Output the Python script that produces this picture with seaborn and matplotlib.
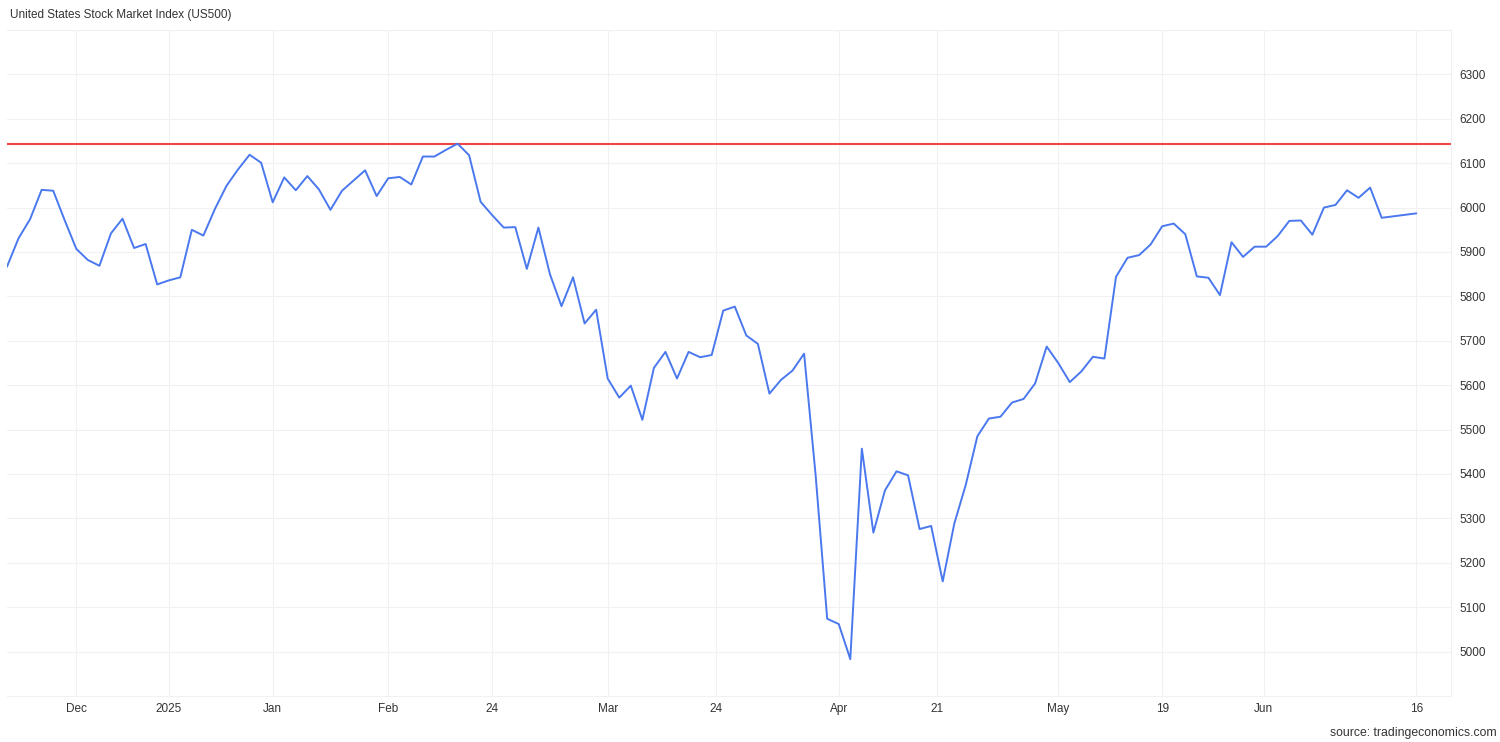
import numpy as np
import pandas as pd
import matplotlib
matplotlib.use("Agg")
import matplotlib.pyplot as plt
import seaborn as sns

# US500 daily closes (trading days only)
dates = [
    "2024-12-19", "2024-12-20", "2024-12-23", "2024-12-24", "2024-12-26", "2024-12-27",
    "2024-12-30", "2024-12-31",
    "2025-01-02", "2025-01-03", "2025-01-06", "2025-01-07", "2025-01-08", "2025-01-10",
    "2025-01-13", "2025-01-14", "2025-01-15", "2025-01-16", "2025-01-17", "2025-01-21",
    "2025-01-22", "2025-01-23", "2025-01-24", "2025-01-27", "2025-01-28", "2025-01-29",
    "2025-01-30", "2025-01-31",
    "2025-02-03", "2025-02-04", "2025-02-05", "2025-02-06", "2025-02-07", "2025-02-10",
    "2025-02-11", "2025-02-12", "2025-02-13", "2025-02-14", "2025-02-18", "2025-02-19",
    "2025-02-20", "2025-02-21", "2025-02-24", "2025-02-25", "2025-02-26", "2025-02-27",
    "2025-02-28",
    "2025-03-03", "2025-03-04", "2025-03-05", "2025-03-06", "2025-03-07", "2025-03-10",
    "2025-03-11", "2025-03-12", "2025-03-13", "2025-03-14", "2025-03-17", "2025-03-18",
    "2025-03-19", "2025-03-20", "2025-03-21", "2025-03-24", "2025-03-25", "2025-03-26",
    "2025-03-27", "2025-03-28", "2025-03-31",
    "2025-04-01", "2025-04-02", "2025-04-03", "2025-04-04", "2025-04-07", "2025-04-08",
    "2025-04-09", "2025-04-10", "2025-04-11", "2025-04-14", "2025-04-15", "2025-04-16",
    "2025-04-17", "2025-04-21", "2025-04-22", "2025-04-23", "2025-04-24", "2025-04-25",
    "2025-04-28", "2025-04-29", "2025-04-30",
    "2025-05-01", "2025-05-02", "2025-05-05", "2025-05-06", "2025-05-07", "2025-05-08",
    "2025-05-09", "2025-05-12", "2025-05-13", "2025-05-14", "2025-05-15", "2025-05-16",
    "2025-05-19", "2025-05-20", "2025-05-21", "2025-05-22", "2025-05-23", "2025-05-27",
    "2025-05-28", "2025-05-29", "2025-05-30",
    "2025-06-02", "2025-06-03", "2025-06-04", "2025-06-05", "2025-06-06", "2025-06-09",
    "2025-06-10", "2025-06-11", "2025-06-12", "2025-06-13", "2025-06-18",
]
closes = [
    5867, 5931, 5974, 6040, 6038, 5971,
    5907, 5882,
    5869, 5942, 5975, 5909, 5918, 5827,
    5836, 5843, 5950, 5937, 5997, 6049,
    6086, 6119, 6101, 6012, 6068, 6039,
    6071, 6041,
    5995, 6038, 6061, 6084, 6026, 6066,
    6069, 6052, 6115, 6115, 6130, 6144,
    6118, 6013, 5983, 5955, 5956, 5862,
    5955,
    5850, 5778, 5843, 5739, 5770, 5615,
    5572, 5599, 5522, 5639, 5675, 5615,
    5675, 5663, 5668, 5768, 5777, 5712,
    5693, 5581, 5612,
    5633, 5671, 5397, 5074, 5062, 4983,
    5457, 5268, 5363, 5406, 5397, 5276,
    5283, 5158, 5288, 5376, 5485, 5525,
    5529, 5561, 5569,
    5604, 5687, 5650, 5607, 5631, 5664,
    5660, 5844, 5887, 5893, 5917, 5958,
    5964, 5940, 5845, 5842, 5803, 5922,
    5889, 5912, 5912,
    5936, 5970, 5971, 5939, 6000, 6006,
    6039, 6022, 6045, 5977, 5987,
]
market_holidays = ["2024-12-25", "2025-01-01", "2025-01-09", "2025-01-20",
                   "2025-02-17", "2025-04-18", "2025-05-26"]

# x ticks sit on the trading-day scale
tick_pos = [6, 14, 23, 33, 42, 52, 61.4, 72, 80.5, 91, 100, 108.8, 122]
tick_labels = ["Dec", "2025", "Jan", "Feb", "24", "Mar", "24", "Apr", "21",
               "May", "19", "Jun", "16"]
y_ticks = list(range(5000, 6301, 100))

df = pd.DataFrame({"date": dates, "close": closes})
day_arr = np.array(dates, dtype="datetime64[D]")
df["day"] = np.busday_count(day_arr[0], day_arr, holidays=market_holidays)

sns.set_style("white")
plt.rcParams["font.family"] = ["Liberation Sans", "DejaVu Sans"]

fig = plt.figure(figsize=(15, 7.42), dpi=100)
ax = fig.add_axes([7 / 1500, 1 - 696 / 742, (1451 - 7) / 1500, (696 - 30) / 742])

grid_col = "#f1f1f3"
ax.axhline(df["close"].max(), color="#f04545", linewidth=1.5, zorder=2)
sns.lineplot(data=df, x="day", y="close", color="#4a78ee", linewidth=1.4, ax=ax, zorder=3)

ax.set_xlim(0, 125)
ax.set_ylim(4900, 6400)
ax.set_xticks(tick_pos)
ax.set_xticklabels(tick_labels)
ax.set_yticks(y_ticks)
ax.yaxis.tick_right()
ax.set_xlabel("")
ax.set_ylabel("")
ax.tick_params(length=0, labelsize=8.5, colors="#333333")
ax.tick_params(axis="x", pad=5)
ax.tick_params(axis="y", pad=6)
ax.grid(True, color=grid_col, linewidth=0.8)

for side in ["top", "bottom", "right"]:
    ax.spines[side].set_color(grid_col)
    ax.spines[side].set_linewidth(0.8)
ax.spines["left"].set_visible(False)

fig.text(10 / 1500, 1 - 15 / 742, "United States Stock Market Index (US500)",
         fontsize=8.5, color="#333333", va="center", ha="left")
fig.text(1497 / 1500, 1 - 733 / 742, "source: tradingeconomics.com",
         fontsize=8.8, color="#333333", va="center", ha="right")

fig.savefig("out.png", dpi=100)
